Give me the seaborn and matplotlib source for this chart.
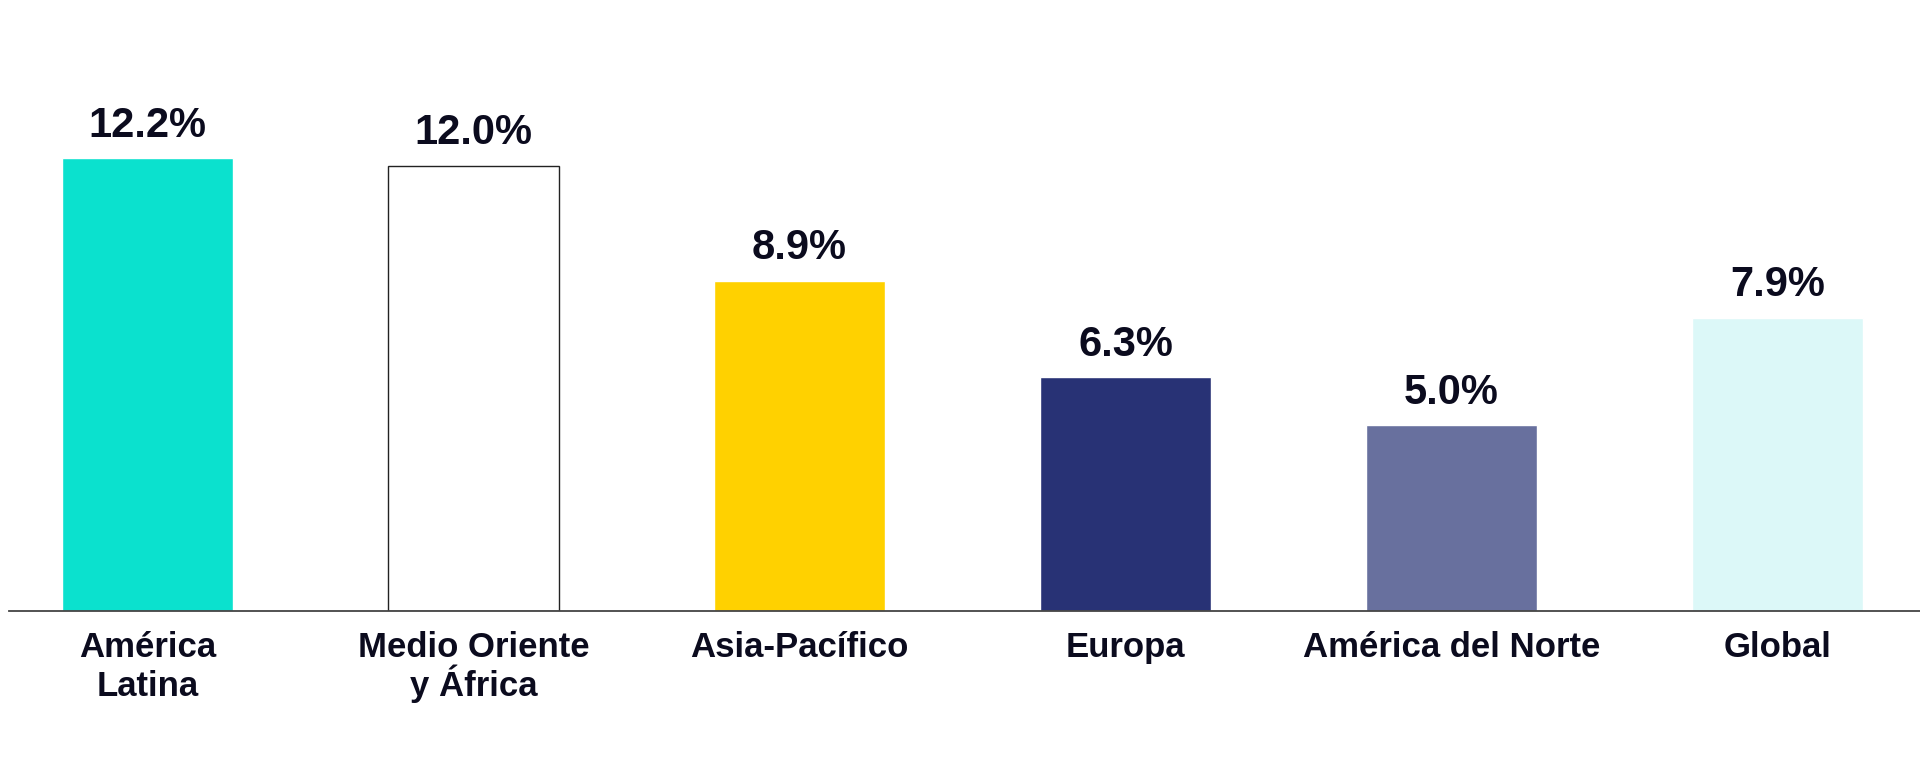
"""
Crecimiento por región - gráfico de barras.
"""
import matplotlib
matplotlib.use("Agg")
import matplotlib.pyplot as plt
import seaborn as sns

regions = ["América\nLatina", "Medio Oriente\ny África", "Asia-Pacífico",
           "Europa", "América del Norte", "Global"]
growth = [12.2, 12.0, 8.9, 6.3, 5.0, 7.9]
bar_colors = ["#0BE1CE", "#FFFFFF", "#FFD100", "#283275", "#68709E", "#DCF8F8"]

TEXT = "#0B0B1E"

sns.set_theme(style="white")
plt.rcParams["font.family"] = ["Liberation Sans", "DejaVu Sans"]

fig = plt.figure(figsize=(19.2, 7.72), dpi=100)
ax = fig.add_axes([9 / 1920, (772 - 611) / 772, 1 - 9 / 1920, 611 / 772])

sns.barplot(x=regions, y=growth, hue=regions, palette=bar_colors,
            legend=False, width=0.525, saturation=1, ax=ax)

# the white bar needs an outline
ax.patches[1].set_edgecolor("#222222")
ax.patches[1].set_linewidth(1.0)

for container in ax.containers:
    ax.bar_label(container, fmt="%.1f%%", padding=9, fontsize=30,
                 fontweight="bold", color=TEXT)

ax.set_xlim(-0.425, 5.437)
ax.set_ylim(0, 16.46)
ax.set_yticks([])
ax.set_xlabel("")
ax.set_ylabel("")

for side in ["top", "right", "left"]:
    ax.spines[side].set_visible(False)
ax.spines["bottom"].set_color("#444444")
ax.spines["bottom"].set_linewidth(1.3)

# category labels: one text per line so both lines sit on fixed baselines
ax.set_xticklabels([])
ax.tick_params(axis="x", length=0)
xform = ax.get_xaxis_transform()
for i, name in enumerate(regions):
    for j, line in enumerate(name.split("\n")):
        ax.annotate(line, xy=(i, 0), xycoords=xform,
                    xytext=(0, -33 - 28 * j), textcoords="offset points",
                    ha="center", va="baseline", fontsize=25,
                    fontweight="bold", color=TEXT, annotation_clip=False)

fig.savefig("out.png", dpi=100, facecolor="white")
